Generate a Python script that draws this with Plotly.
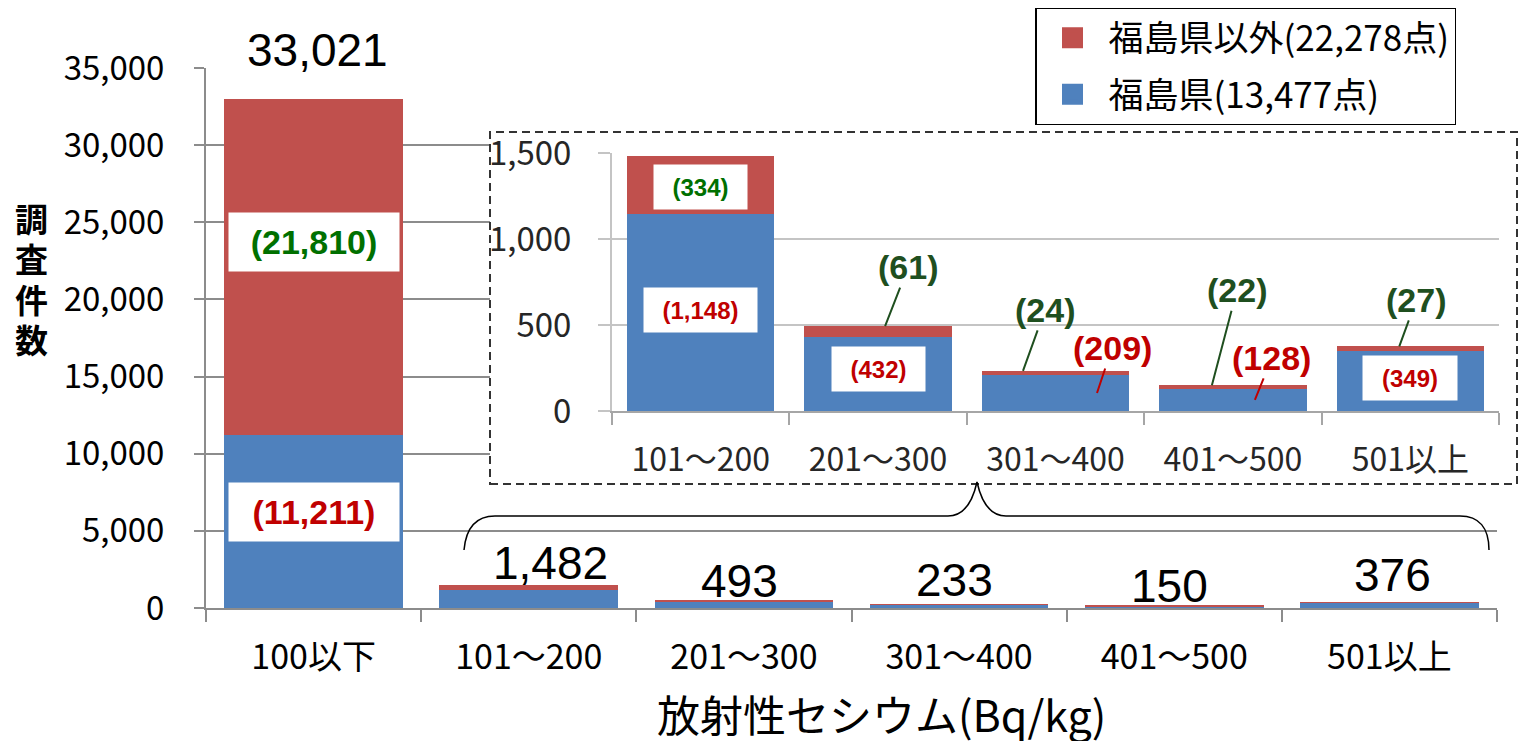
import plotly.graph_objects as go

# ---------------- data ----------------
categories = ["100以下", "101～200", "201～300", "301～400", "401～500", "501以上"]
fukushima = [11211, 1148, 432, 209, 128, 349]          # 福島県
others = [21810, 334, 61, 24, 22, 27]                  # 福島県以外
totals = [33021, 1482, 493, 233, 150, 376]
inset_categories = categories[1:]
inset_fukushima = fukushima[1:]
inset_others = others[1:]
name_fuku = "福島県(13,477点)"
name_other = "福島県以外(22,278点)"
main_ticks = [0, 5000, 10000, 15000, 20000, 25000, 30000, 35000]
inset_ticks = [0, 500, 1000, 1500]
yaxis_title_chars = ["調", "査", "件", "数"]

# ---------------- styling helpers ----------------
# page body has an 8px margin, so the figure is 1523x733 placed at (8, 8)
OFF = 8
W, H = 1539 - 2 * OFF, 749 - 2 * OFF
def px(x):
    return (x - OFF) / W
def py(y):
    return 1 - (y - OFF) / H

BLUE = "#4F81BD"
RED = "#C0504D"
GREEN = "#007000"
DGREEN = "#1F4F1F"
LRED = "#C00000"
JP = "Noto Sans CJK JP"
AR = "Liberation Sans"

fig = go.Figure()

# main stacked bars
fig.add_trace(go.Bar(x=categories, y=fukushima, name=name_fuku, showlegend=False,
                     marker=dict(color=BLUE, line=dict(width=0)), xaxis="x", yaxis="y"))
fig.add_trace(go.Bar(x=categories, y=others, name=name_other, showlegend=False,
                     marker=dict(color=RED, line=dict(width=0)), xaxis="x", yaxis="y"))
# legend swatches (larger square keys, as in the original)
fig.add_trace(go.Scatter(x=[categories[0]], y=[None], mode="markers", name=name_other,
                         legendgroup="a", legendrank=1, hoverinfo="skip",
                         marker=dict(symbol="square", size=16, color=RED, line=dict(color=RED, width=5)),
                         xaxis="x", yaxis="y"))
fig.add_trace(go.Scatter(x=[categories[0]], y=[None], mode="markers", name=name_fuku,
                         legendgroup="b", legendrank=2, hoverinfo="skip",
                         marker=dict(symbol="square", size=16, color=BLUE, line=dict(color=BLUE, width=5)),
                         xaxis="x", yaxis="y"))
# white cover panel behind the inset
fig.add_trace(go.Scatter(x=[0.5], y=[0.5], mode="markers", marker=dict(opacity=0),
                         showlegend=False, hoverinfo="skip", xaxis="x2", yaxis="y2"))
# inset stacked bars
fig.add_trace(go.Bar(x=inset_categories, y=inset_fukushima, showlegend=False,
                     marker=dict(color=BLUE, line=dict(width=0)), xaxis="x3", yaxis="y3"))
fig.add_trace(go.Bar(x=inset_categories, y=inset_others, showlegend=False,
                     marker=dict(color=RED, line=dict(width=0)), xaxis="x3", yaxis="y3"))

ann = []
# totals above bars
tot_dx = [4, 22, -4, -5, -5, 3]
tot_dy = [21, -6, -9, -4, -8, -1]
for c, t, dx, dy in zip(categories, totals, tot_dx, tot_dy):
    ann.append(dict(x=c, y=t, xref="x", yref="y", text=f"{t:,}", showarrow=False,
                    yanchor="bottom", xshift=dx, yshift=dy,
                    font=dict(family=AR, size=46, color="black")))

# boxed labels in the main chart
ann.append(dict(x=categories[0], y=fukushima[0] + others[0] / 2, xref="x", yref="y",
                text=f"<b>({others[0]:,})</b>", showarrow=False, yshift=24.6,
                bgcolor="white", width=168, height=56,
                font=dict(family=AR, size=34, color=GREEN)))
ann.append(dict(x=categories[0], y=fukushima[0] / 2, xref="x", yref="y",
                text=f"<b>({fukushima[0]:,})</b>", showarrow=False, yshift=9.5,
                bgcolor="white", width=168, height=56,
                font=dict(family=AR, size=34, color=LRED)))

# boxed labels in the inset
ann.append(dict(x=inset_categories[0], y=inset_fukushima[0] + inset_others[0] / 2, xref="x3", yref="y3",
                text=f"<b>({inset_others[0]:,})</b>", showarrow=False, yshift=-1.7,
                bgcolor="white", width=91, height=42,
                font=dict(family=AR, size=24, color=GREEN)))
box_w = [111, 91, None, None, 92]
box_dy = [2.5, 5, None, None, 2.5]
for i in (0, 1, 4):
    ann.append(dict(x=inset_categories[i], y=inset_fukushima[i] / 2, xref="x3", yref="y3",
                    text=f"<b>({inset_fukushima[i]:,})</b>", showarrow=False, yshift=box_dy[i],
                    bgcolor="white", width=box_w[i], height=42,
                    font=dict(family=AR, size=24, color=LRED)))

# leader-line labels in the inset (others, at top of bar)
lead_o = {1: (7, 23, -59), 2: (-32.5, 22, -61), 3: (-21, 25, -95), 4: (-11, 17, -46.5)}
for i, (dx, ax, ay) in lead_o.items():
    ann.append(dict(x=inset_categories[i], y=inset_fukushima[i] + inset_others[i], xref="x3", yref="y3",
                    text=f"<b>({inset_others[i]:,})</b>", showarrow=True, arrowhead=0,
                    arrowwidth=2, arrowcolor=DGREEN, ax=ax, ay=ay, xshift=dx, standoff=0,
                    font=dict(family=AR, size=34, color=DGREEN)))
# leader-line labels in the inset (fukushima)
lead_f = {2: (41.5, 15, -45), 3: (22, 17, -42)}
for i, (dx, ax, ay) in lead_f.items():
    ann.append(dict(x=inset_categories[i], y=inset_fukushima[i] / 2, xref="x3", yref="y3",
                    text=f"<b>({inset_fukushima[i]:,})</b>", showarrow=True, arrowhead=0,
                    arrowwidth=2, arrowcolor=LRED, ax=ax, ay=ay, xshift=dx, standoff=0,
                    font=dict(family=AR, size=34, color=LRED)))

# axis titles
ann.append(dict(x=px(881), y=py(713), xref="paper", yref="paper", showarrow=False,
                xanchor="center", yanchor="middle",
                text="放射性セシウム(Bq/kg)", font=dict(family=JP, size=43, color="black")))
ytitle = "<br>".join(f"<span style='font-size:33px'>{ch}</span>" for ch in yaxis_title_chars)
ann.append(dict(x=px(32), y=py(279), xref="paper", yref="paper", showarrow=False,
                xanchor="center", yanchor="middle",
                text=f"<b>{ytitle}</b>", font=dict(family=JP, size=31, color="black")))

# shapes: dashed inset frame and brace
def P(x, y):
    return f"{px(x):.5f},{py(y):.5f}"
brace = ("M " + P(464, 550) + " C " + P(466, 528) + " " + P(476, 516) + " " + P(495, 516) +
         " L " + P(948, 516) + " C " + P(965, 516) + " " + P(973, 500) + " " + P(977, 482) +
         " C " + P(981, 500) + " " + P(989, 516) + " " + P(1006, 516) +
         " L " + P(1460, 516) + " C " + P(1479, 516) + " " + P(1489, 528) + " " + P(1489, 550))
shapes = [
    dict(type="rect", xref="paper", yref="paper", x0=px(490), x1=px(1517), y0=py(484), y1=py(132),
         line=dict(color="#333333", width=2, dash="8px,5px"), fillcolor="rgba(0,0,0,0)", layer="above"),
    dict(type="path", xref="paper", yref="paper", path=brace,
         line=dict(color="black", width=1.5), layer="above"),
]

GRID = "#8C8C8C"
IGRID = "#C4C4C4"
fig.update_layout(
    width=W, height=H, autosize=False,
    margin=dict(l=0, r=0, t=0, b=0, autoexpand=False),
    paper_bgcolor="white", plot_bgcolor="white",
    barmode="stack", bargap=0.17,
    showlegend=True,
    legend=dict(x=px(1035), y=py(7), xanchor="left", yanchor="top",
                bordercolor="black", borderwidth=1.5, bgcolor="white",
                font=dict(family=JP, size=35, color="black"),
                traceorder="grouped", tracegroupgap=8, itemwidth=62),
    xaxis=dict(domain=[px(206), px(1497)], type="category", showgrid=False, automargin=False,
               anchor="y",
               showline=True, linecolor=GRID, linewidth=2,
               ticks="outside", tickson="boundaries", ticklen=12, tickcolor=GRID, tickwidth=2,
               ticklabelstandoff=18,
               tickfont=dict(family=JP, size=34, color="black")),
    yaxis=dict(domain=[py(608), py(68)], range=[0, 35000], tickvals=main_ticks, automargin=False,
               anchor="x",
               tickformat=",", showgrid=True, gridcolor=GRID, gridwidth=2, zeroline=False,
               showline=True, linecolor=GRID, linewidth=2,
               ticks="outside", ticklen=10, tickcolor=GRID, tickwidth=2,
               ticklabelstandoff=23,
               tickfont=dict(family=JP, size=33, color="black")),
    xaxis2=dict(domain=[px(490), px(1517)], range=[0, 1], anchor="y2", automargin=False,
                showgrid=False, zeroline=False,
                showline=False, showticklabels=False, ticks=""),
    yaxis2=dict(domain=[py(484), py(132)], range=[0, 1], anchor="x2", automargin=False,
                showgrid=False, zeroline=False,
                showline=False, showticklabels=False, ticks=""),
    xaxis3=dict(domain=[px(612), px(1499)], type="category", showgrid=False, anchor="y3",
                automargin=False,
                showline=True, linecolor="#A6A6A6", linewidth=2,
                ticks="outside", tickson="boundaries", ticklen=12, tickcolor="#A6A6A6", tickwidth=2,
                ticklabelstandoff=20,
                tickfont=dict(family=JP, size=32, color="#262626")),
    yaxis3=dict(domain=[py(411), py(153)], range=[0, 1500], tickvals=inset_ticks, anchor="x3",
                automargin=False,
                tickformat=",", showgrid=True, gridcolor=IGRID, gridwidth=2, zeroline=False,
                showline=True, linecolor=IGRID, linewidth=2,
                ticks="outside", ticklen=12, tickcolor=IGRID, tickwidth=2,
                ticklabelstandoff=20,
                tickfont=dict(family=JP, size=33, color="#262626")),
    annotations=ann,
    shapes=shapes,
)
fig.write_html("out.html")
